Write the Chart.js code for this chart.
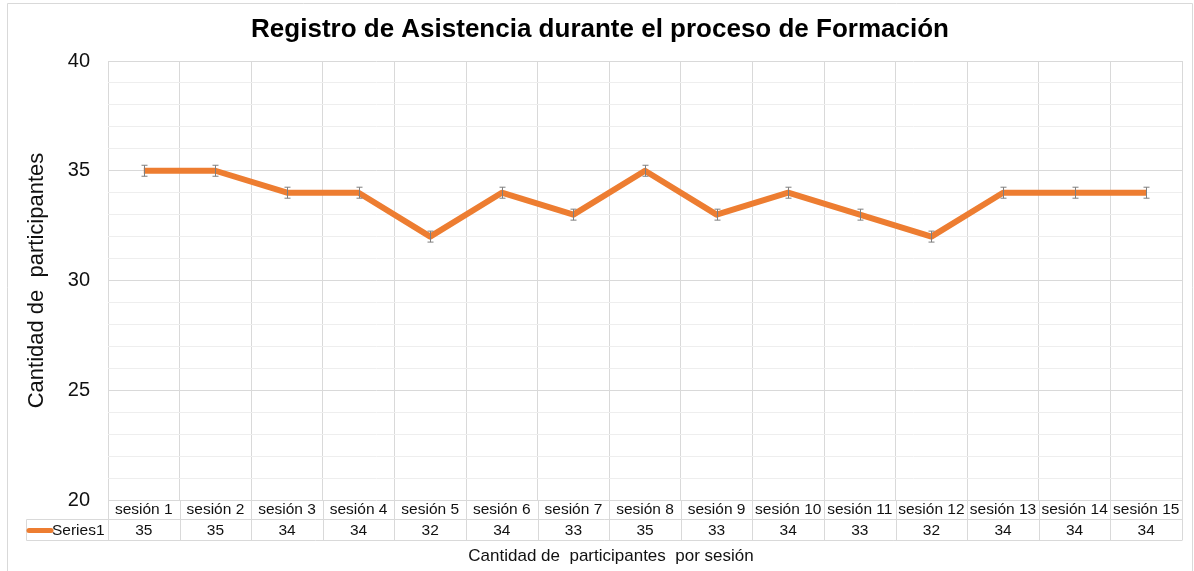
<!DOCTYPE html>
<html>
<head>
<meta charset="utf-8">
<script src="https://cdn.jsdelivr.net/npm/chart.js@4/dist/chart.umd.min.js"></script>
<style>
  html, body { margin: 0; padding: 0; background: #fff; }
  #wrap { width: 1194px; height: 571px; position: relative; }
</style>
</head>
<body>
<div id="wrap"><canvas id="lineChart" width="1194" height="571"></canvas></div>
<script>
// data
const sessions = ['sesión 1', 'sesión 2', 'sesión 3', 'sesión 4', 'sesión 5', 'sesión 6', 'sesión 7', 'sesión 8',
                  'sesión 9', 'sesión 10', 'sesión 11', 'sesión 12', 'sesión 13', 'sesión 14', 'sesión 15'];
const attendance = [35, 35, 34, 34, 32, 34, 33, 35, 33, 34, 33, 32, 34, 34, 34];
const errorAmount = [0.25, 0.25, 0.25, 0.25, 0.25, 0.25, 0.25, 0.25, 0.25, 0.25, 0.25, 0.25, 0.25, 0.25, 0.25];
const yTicks = [20, 25, 30, 35, 40];
const seriesName = 'Series1';

const FONT = '"Liberation Sans", Arial, sans-serif';
const ORANGE = '#ED7D31';
const GRID = '#d9d9d9';

// title, axis titles, border, error bars and the data table
const excelBits = {
    id: 'excelBits',
    beforeDraw(chart) {
        const ctx = chart.ctx;
        ctx.save();
        ctx.strokeStyle = GRID;
        ctx.lineWidth = 1;
        ctx.beginPath();
        ctx.moveTo(7.5, 575);
        ctx.lineTo(7.5, 3.5);
        ctx.lineTo(1192.5, 3.5);
        ctx.lineTo(1192.5, 575);
        ctx.stroke();
        ctx.restore();
    },
    afterDatasetsDraw(chart) {
        const ctx = chart.ctx;
        const x = chart.scales.x, y = chart.scales.y;
        const area = chart.chartArea;
        ctx.save();

        // error bars
        ctx.strokeStyle = '#7f7f7f';
        ctx.lineWidth = 1;
        attendance.forEach((v, i) => {
            const px = Math.round(x.getPixelForValue(i)) + 0.5;
            const top = y.getPixelForValue(v + errorAmount[i]);
            const bot = y.getPixelForValue(v - errorAmount[i]);
            ctx.beginPath();
            ctx.moveTo(px, top); ctx.lineTo(px, bot);
            ctx.moveTo(px - 3, top); ctx.lineTo(px + 3, top);
            ctx.moveTo(px - 3, bot); ctx.lineTo(px + 3, bot);
            ctx.stroke();
        });

        // data table
        const rowA = area.bottom, rowB = area.bottom + 19.5, rowC = area.bottom + 40.5;
        const legendLeft = 26.5;
        ctx.strokeStyle = GRID;
        ctx.beginPath();
        ctx.moveTo(legendLeft, rowB); ctx.lineTo(area.right, rowB);
        ctx.moveTo(legendLeft, rowC); ctx.lineTo(area.right, rowC);
        ctx.moveTo(legendLeft, rowB); ctx.lineTo(legendLeft, rowC);
        const step = x.getPixelForValue(1) - x.getPixelForValue(0);
        for (let i = 0; i <= sessions.length; i++) {
            const gx = Math.round(x.getPixelForValue(i) - step / 2) + 0.5;
            ctx.moveTo(gx, rowA); ctx.lineTo(gx, rowC);
        }
        ctx.stroke();

        ctx.fillStyle = '#111';
        ctx.font = '15.5px ' + FONT;
        ctx.textAlign = 'center';
        ctx.textBaseline = 'middle';
        sessions.forEach((s, i) => {
            const cx = x.getPixelForValue(i);
            ctx.fillText(s, cx, rowA + 10);
            ctx.fillText(String(attendance[i]), cx, rowB + 11);
        });

        // legend key
        ctx.strokeStyle = ORANGE;
        ctx.lineWidth = 5;
        ctx.lineCap = 'round';
        ctx.beginPath();
        ctx.moveTo(29, rowB + 11); ctx.lineTo(51, rowB + 11);
        ctx.stroke();
        ctx.textAlign = 'left';
        ctx.fillText(seriesName, 52, rowB + 11);

        // chart title
        ctx.font = 'bold 26px ' + FONT;
        ctx.textAlign = 'center';
        ctx.fillStyle = '#000';
        ctx.fillText('Registro de Asistencia durante el proceso de Formación', 600, 30);

        // axis titles
        ctx.font = '17px ' + FONT;
        ctx.fillStyle = '#111';
        ctx.fillText('Cantidad de  participantes  por sesión', 611, 556);

        ctx.translate(37, (area.top + area.bottom) / 2);
        ctx.rotate(-Math.PI / 2);
        ctx.font = '22px ' + FONT;
        ctx.fillText('Cantidad de  participantes', 0, 0);
        ctx.restore();
    }
};

new Chart(document.getElementById('lineChart'), {
    type: 'line',
    data: {
        labels: sessions,
        datasets: [{
            label: seriesName,
            data: attendance,
            borderColor: ORANGE,
            backgroundColor: ORANGE,
            borderWidth: 6,
            pointRadius: 0,
            tension: 0,
            borderJoinStyle: 'round'
        }]
    },
    options: {
        responsive: false,
        animation: false,
        layout: { padding: { top: 61, right: 12, bottom: 71, left: 0 } },
        plugins: {
            legend: { display: false },
            title: { display: false },
            tooltip: { enabled: false }
        },
        scales: {
            x: {
                type: 'category',
                offset: true,
                grid: { offset: true, color: GRID, drawTicks: false },
                border: { display: false },
                ticks: { display: false },
                afterFit(scale) { scale.height = 0; }
            },
            y: {
                min: 20,
                max: 40,
                grid: {
                    drawTicks: false,
                    color: c => (yTicks.includes(c.tick.value) ? GRID : '#eeeeee')
                },
                border: { display: false },
                ticks: {
                    stepSize: 1,
                    autoSkip: false,
                    padding: 18,
                    color: '#111',
                    font: { size: 20, family: FONT },
                    callback: v => (yTicks.includes(v) ? v : '')
                },
                afterFit(scale) { scale.width = 108; }
            }
        }
    },
    plugins: [excelBits]
});
</script>
</body>
</html>
